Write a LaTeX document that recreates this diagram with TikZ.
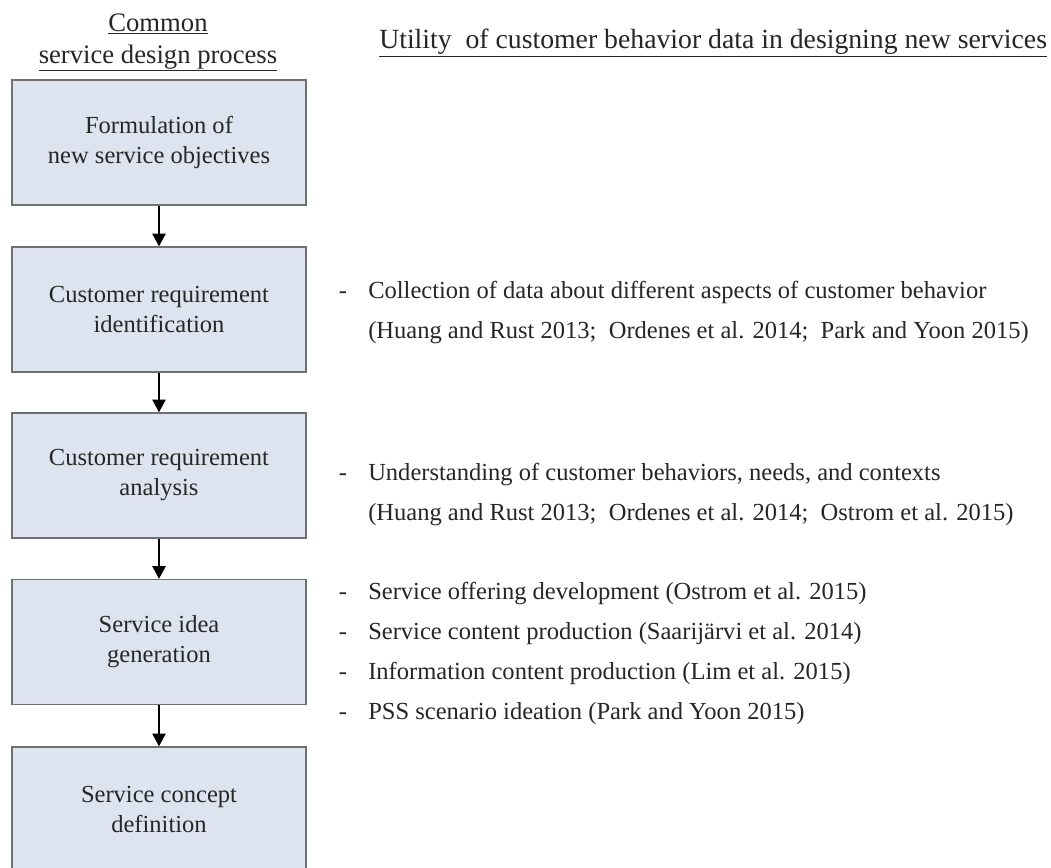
\documentclass[tikz,border=0pt]{standalone}
\usepackage{fontspec}
\setmainfont{Liberation Serif}
\usetikzlibrary{arrows.meta}
\definecolor{boxfill}{RGB}{221,228,239}
\definecolor{boxline}{RGB}{112,112,112}
\definecolor{ink}{RGB}{38,38,38}
\tikzset{
  stage/.style={draw=boxline, fill=boxfill, line width=1.1pt, minimum width=220.5pt, minimum height=93.75pt,
    align=center, text=ink, font=\fontsize{18.4}{22.5}\selectfont, inner sep=0pt},
  flow/.style={draw=black, line width=1.1pt, -{Triangle[width=10pt, length=9.5pt]}},
  head/.style={anchor=base, text=ink, font=\fontsize{20}{24}\selectfont, inner sep=0pt},
  item/.style={anchor=base west, text=ink, font=\fontsize{18.4}{22}\selectfont, inner sep=0pt},
  bullet/.style={anchor=base, text=ink, font=\fontsize{18.4}{22}\selectfont, inner sep=0pt}
}
\begin{document}
\begin{tikzpicture}[x=0.75pt, y=-0.75pt]
\useasboundingbox (0,0) rectangle (1051,868);
\clip (0,0) rectangle (1051,868);
\fill[white] (0,0) rectangle (1051,868);

% column headings
\node[head] (hleft1) at (158,31) {\underline{Common}};
\node[head] (hleft2) at (158,63) {\underline{service design process}};
\node[head, anchor=base west, font=\fontsize{20.8}{24}\selectfont] (hright) at (379,48)
  {\underline{Utility\ \ of customer behavior data in designing new services}};

% design process stages
\node[stage] (s1) at (159,142.5) {Formulation of\\new service objectives};
\node[stage] (s2) at (159,309.5) {Customer requirement\\identification};
\node[stage] (s3) at (159,475.5) {Customer requirement\\analysis};
\node[stage] (s4) at (159,642) {Service idea\\generation};
\node[stage] (s5) at (159,809.5) {Service concept\\definition};

\draw[flow] (s1) -- (s2);
\draw[flow] (s2) -- (s3);
\draw[flow] (s3) -- (s4);
\draw[flow] (s4) -- (s5);

% utility notes
\node[bullet] (d1) at (343,298) {-};
\node[item] (t1) at (368,298) {Collection of data about different aspects of customer behavior};
\node[item] (c1) at (368,338) {(Huang and Rust 2013;\ \ Ordenes et al. 2014;\ \ Park and Yoon 2015)};

\node[bullet] (d2) at (343,480) {-};
\node[item] (t2) at (368,480) {Understanding of customer behaviors, needs, and contexts};
\node[item] (c2) at (368,520) {(Huang and Rust 2013;\ \ Ordenes et al. 2014;\ \ Ostrom et al. 2015)};

\node[bullet] (d3) at (343,599) {-};
\node[item] (t3) at (368,599) {Service offering development (Ostrom et al. 2015)};
\node[bullet] (d4) at (343,639) {-};
\node[item] (t4) at (368,639) {Service content production (Saarijärvi et al. 2014)};
\node[bullet] (d5) at (343,679) {-};
\node[item] (t5) at (368,679) {Information content production (Lim et al. 2015)};
\node[bullet] (d6) at (343,719) {-};
\node[item] (t6) at (368,719) {PSS scenario ideation (Park and Yoon 2015)};
\end{tikzpicture}
\end{document}
